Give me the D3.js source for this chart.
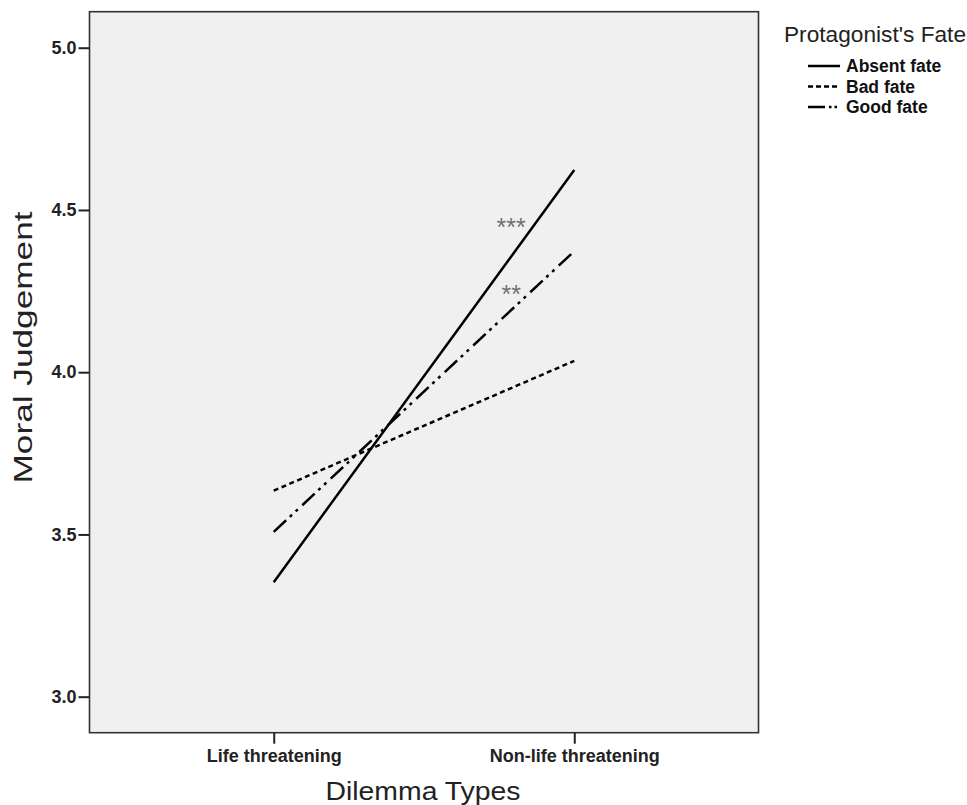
<!DOCTYPE html>
<html>
<head>
<meta charset="utf-8">
<script src="https://cdn.jsdelivr.net/npm/d3@7"></script>
<style>
  html, body { margin: 0; padding: 0; background: #fff; }
  svg { display: block; }
  text { font-family: "Liberation Sans", Arial, sans-serif; }
</style>
</head>
<body>
<svg id="chart" width="967" height="805"></svg>
<script>
// ---- data ----
const categories = ["Life threatening", "Non-life threatening"];
const seriesNames = ["Absent fate", "Bad fate", "Good fate"];
const absentFate = [3.353, 4.623];
const badFate = [3.635, 4.035];
const goodFate = [3.508, 4.373];
const yTicks = [3.0, 3.5, 4.0, 4.5, 5.0];
const yDomain = [2.889, 5.111];
const annotations = [
  { label: "***", t: 0.79, value: 4.42 },
  { label: "**",  t: 0.79, value: 4.213 }
];
const legendTitle = "Protagonist's Fate";
const xTitle = "Dilemma Types";
const yTitle = "Moral Judgement";

// ---- layout ----
const plot = { left: 89.5, right: 758.5, top: 11.7, bottom: 732.7 };
const svg = d3.select("#chart");

const x = d3.scalePoint().domain(categories).range([plot.left, plot.right]).padding(0.613);
const y = d3.scaleLinear().domain(yDomain).range([plot.bottom, plot.top]);

const dashes = {
  "Absent fate": null,
  "Bad fate": "5,3.5",
  "Good fate": "17,5,3,5,3,6"
};
const seriesValues = { "Absent fate": absentFate, "Bad fate": badFate, "Good fate": goodFate };

// plot background
svg.append("rect")
  .attr("x", plot.left).attr("y", plot.top)
  .attr("width", plot.right - plot.left).attr("height", plot.bottom - plot.top)
  .attr("fill", "#f0f0f0");

// lines
const line = d3.line().x((d, i) => x(categories[i])).y(d => y(d));
seriesNames.forEach(name => {
  svg.append("path")
    .datum(seriesValues[name])
    .attr("d", line)
    .attr("fill", "none")
    .attr("stroke", "#000")
    .attr("stroke-width", 2.5)
    .attr("stroke-dasharray", dashes[name]);
});

// annotations
annotations.forEach(a => {
  const xa = x(categories[0]) + a.t * (x(categories[1]) - x(categories[0]));
  svg.append("text")
    .attr("x", xa).attr("y", y(a.value))
    .attr("text-anchor", "middle")
    .attr("font-size", 25)
    .attr("fill", "#707070")
    .text(a.label);
});

// frame
svg.append("rect")
  .attr("x", plot.left).attr("y", plot.top)
  .attr("width", plot.right - plot.left).attr("height", plot.bottom - plot.top)
  .attr("fill", "none").attr("stroke", "#333").attr("stroke-width", 1.6);

// y axis
const yAxis = svg.append("g")
  .attr("transform", `translate(${plot.left},0)`)
  .call(d3.axisLeft(y).tickValues(yTicks).tickFormat(d3.format(".1f")).tickSize(11).tickPadding(2));
yAxis.select(".domain").remove();
yAxis.selectAll(".tick line").attr("stroke", "#222").attr("stroke-width", 2);
yAxis.selectAll(".tick text")
  .attr("font-family", "Liberation Sans, Arial, sans-serif")
  .attr("font-size", 18).attr("font-weight", "bold").attr("fill", "#222");

// x axis
const xAxis = svg.append("g")
  .attr("transform", `translate(0,${plot.bottom})`)
  .call(d3.axisBottom(x).tickSize(11).tickPadding(6));
xAxis.select(".domain").remove();
xAxis.selectAll(".tick line").attr("stroke", "#222").attr("stroke-width", 2);
xAxis.selectAll(".tick text")
  .attr("font-family", "Liberation Sans, Arial, sans-serif")
  .attr("font-size", 18).attr("font-weight", "bold").attr("fill", "#222");

// axis titles
svg.append("text")
  .attr("x", 423).attr("y", 800)
  .attr("text-anchor", "middle")
  .attr("font-size", 25).attr("fill", "#222")
  .attr("textLength", 195).attr("lengthAdjust", "spacingAndGlyphs")
  .text(xTitle);

svg.append("text")
  .attr("transform", "translate(32,347.5) rotate(-90)")
  .attr("text-anchor", "middle")
  .attr("font-size", 25).attr("fill", "#222")
  .attr("textLength", 272).attr("lengthAdjust", "spacingAndGlyphs")
  .text(yTitle);

// legend
svg.append("text")
  .attr("x", 784).attr("y", 42)
  .attr("font-size", 22).attr("fill", "#222")
  .attr("textLength", 182).attr("lengthAdjust", "spacingAndGlyphs")
  .text(legendTitle);

const legend = svg.append("g");
seriesNames.forEach((name, i) => {
  const cy = 66 + i * 20.5;
  legend.append("line")
    .attr("x1", 808).attr("x2", 840).attr("y1", cy).attr("y2", cy)
    .attr("stroke", "#000").attr("stroke-width", 2.5)
    .attr("stroke-dasharray", name === "Bad fate" ? "5,3" : (name === "Good fate" ? "17,4,2.5,3,2.5,6" : null));
  legend.append("text")
    .attr("x", 846).attr("y", cy + 6)
    .attr("font-size", 17.5).attr("font-weight", "bold").attr("fill", "#111")
    .text(name);
});
</script>
</body>
</html>
